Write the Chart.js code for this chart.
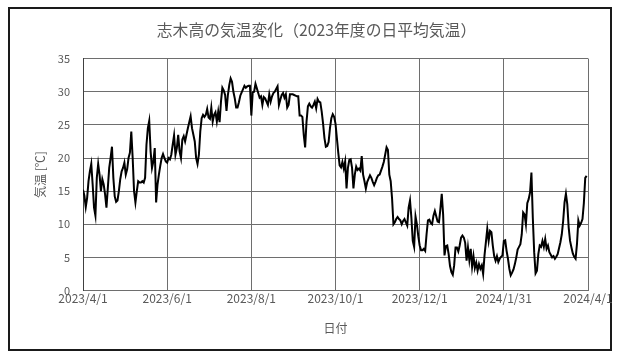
<!DOCTYPE html>
<html>
<head>
<meta charset="utf-8">
<script src="https://cdn.jsdelivr.net/npm/chart.js@4.4.1/dist/chart.umd.min.js"></script>
<style>
  html, body { margin: 0; padding: 0; background: #fff; }
  #wrap { width: 617px; height: 357px; }
</style>
</head>
<body>
<div id="wrap"><canvas id="tempChart" width="617" height="357"></canvas></div>
<script>
// daily mean temperature, 2023/4/1 .. 2024/3/31 (one value per day)
const apr = [15.2, 14.3, 12.6, 14, 16.5, 18, 19.1, 16, 12.5, 11.3,
    17, 19.1, 17.5, 15, 16.8, 16, 14.5, 12.5, 15.5, 18.5,
    20, 21.7, 17, 14.2, 13.4, 13.6, 15, 16.8, 18, 18.5];
const may = [19.3, 17.5, 18.3, 20, 20.8, 24, 20, 15, 13.3, 15,
    16.5, 16.3, 16.3, 16.5, 16.3, 17, 22, 24.5, 25.6, 21,
    18.5, 19.5, 21.5, 13.3, 16, 17.5, 18.8, 20, 20.6, 20,
    19.5];
const jun = [19.3, 20, 19.8, 20.5, 22, 23.4, 20.5, 21.5, 23.5, 21,
    20, 22.8, 23.3, 22.5, 23.5, 24.5, 25.4, 26.3, 24.5, 23.5,
    22.5, 20, 19.1, 20.5, 24, 26, 26.5, 26.2, 26.5, 27.4];
const jul = [26.1, 25.9, 27.6, 25.5, 26.5, 26.9, 25.5, 27, 25.4, 28.5,
    30.6, 30.2, 29.5, 27.1, 29.5, 31, 32, 31.5, 30, 29,
    27.6, 27.6, 28.4, 29.4, 29.9, 30.4, 30.9, 30.6, 30.8, 30.9,
    30.9];
const aug = [26.4, 29.9, 30, 31.2, 30.5, 29.8, 29.1, 29.3, 28, 29.2,
    29, 28.5, 28, 29.6, 28.5, 29.3, 29.8, 30, 30.4, 30.8,
    28, 28.8, 29.5, 29.8, 29.1, 29.6, 27.6, 28, 29.6, 29.6,
    29.6];
const sep = [29.5, 29.4, 29.3, 29.3, 26.4, 26.4, 26.2, 23.5, 21.6, 25.5,
    27.8, 28.2, 27.8, 27.6, 28, 28.5, 27.5, 28.9, 28.5, 28.4,
    27, 25.2, 23, 21.7, 21.8, 22.4, 24.5, 26, 26.6, 26.2];
const oct = [25.2, 23, 20.8, 18.9, 18.6, 19.4, 18.4, 19.5, 15.4, 18.5,
    19.7, 19.8, 18.5, 15.4, 17.5, 18.7, 18.2, 18.4, 18.1, 20.3,
    17.5, 16.5, 15.4, 16.4, 16.9, 17.4, 17, 16.4, 15.9, 16.4,
    17];
const nov = [17.4, 17.5, 18.1, 18.7, 19.4, 20.5, 21.6, 21.2, 17.5, 16.5,
    13.9, 10, 10.3, 10.8, 11.1, 10.8, 10.6, 10, 10.5, 10.8,
    10.3, 9.8, 12.5, 13.6, 11, 7.5, 6.6, 11.2, 10, 8.2];
const dec = [6.8, 6.1, 6.1, 6.3, 6, 8.5, 10.6, 10.7, 10.2, 10,
    11.3, 12, 11.2, 10.4, 10.3, 12.3, 14.6, 11.5, 5.3, 6.7,
    6.8, 5.5, 3.7, 2.8, 2.4, 3.8, 6.5, 6.5, 5.9, 6.8,
    8];
const jan = [8.3, 8, 7.2, 4.5, 6.5, 4.6, 6.3, 3.6, 5.2, 3.4,
    4.2, 3, 4, 3.3, 3.8, 2.5, 5.3, 7.3, 9.3, 7.5,
    9, 8.8, 6.8, 5.2, 4.5, 5.2, 4.3, 4.8, 5.1, 5.3,
    7.5];
const feb = [7.6, 6, 4.8, 3.3, 2.3, 2.7, 3.2, 4, 5, 6.2,
    6.6, 7, 8.5, 11.8, 11.5, 10, 13.2, 13.8, 14.8, 17.8,
    11, 5.8, 2.6, 3, 5.5, 6.8, 6.6, 7.5, 6.6];
const mar = [7.8, 6.3, 6.8, 5.8, 5.4, 5, 5.2, 4.8, 5.1, 5.5,
    6.4, 7.3, 8.5, 10.5, 13.3, 14.6, 13, 9.5, 7.5, 6.5,
    5.6, 5.1, 4.8, 7, 10.6, 9.8, 10.2, 10.8, 13.2, 17,
    17.3];

const temps = [...apr, ...may, ...jun, ...jul, ...aug, ...sep,
    ...oct, ...nov, ...dec, ...jan, ...feb, ...mar];

// x axis: day number from 2023/4/1, ticks every 61 days
const xTickLabels = ['2023/4/1', '2023/6/1', '2023/8/1', '2023/10/1', '2023/12/1', '2024/1/31', '2024/4/1'];
const xStep = 61;
const yMax = 35;
const yStep = 5;

const textColor = '#595959';
const gridColor = '#6e6e6e';
const fontFamily = "'Noto Sans CJK JP', 'Noto Sans', sans-serif";

// white background + outer frame like the Excel chart area
const frame = {
    id: 'frame',
    beforeDraw(chart) {
        const c = chart.ctx;
        c.save();
        c.fillStyle = '#fff';
        c.fillRect(0, 0, chart.width, chart.height);
        c.strokeStyle = '#1a1a1a';
        c.lineWidth = 2;
        c.strokeRect(9, 8, 602, 342);
        c.restore();
    }
};

const padLeft = 45;

const ctx = document.getElementById('tempChart').getContext('2d');
const tempChart = new Chart(ctx, {
    type: 'line',
    data: {
        datasets: [{
            label: '日平均気温',
            data: temps.map((v, i) => ({ x: i, y: v })),
            borderColor: '#000',
            borderWidth: 2,
            pointRadius: 0,
            tension: 0,
            fill: false
        }]
    },
    options: {
        responsive: false,
        animation: false,
        layout: {
            padding: { left: padLeft, right: 29, top: 21, bottom: 21 }
        },
        plugins: {
            legend: { display: false },
            tooltip: { enabled: false },
            title: {
                display: true,
                text: '志木高の気温変化（2023年度の日平均気温）',
                color: textColor,
                font: { family: fontFamily, size: 15.8, weight: 'normal' },
                padding: { top: 0, bottom: 18.6 }
            }
        },
        scales: {
            x: {
                type: 'linear',
                min: 0,
                max: xStep * (xTickLabels.length - 1),
                afterFit(scale) {
                    scale.height = 45.4;
                    scale.paddingLeft = 0;
                    scale.paddingRight = 0;
                },
                ticks: {
                    stepSize: xStep,
                    autoSkip: false,
                    maxRotation: 0,
                    padding: 1,
                    color: textColor,
                    font: { family: fontFamily, size: 12 },
                    callback: (v) => xTickLabels[Math.round(v / xStep)]
                },
                grid: { color: gridColor, lineWidth: 1, drawTicks: false },
                border: { color: gridColor, width: 1 },
                title: {
                    display: true,
                    text: '日付',
                    color: textColor,
                    font: { family: fontFamily, size: 12 },
                    padding: { top: 0, bottom: 0 }
                }
            },
            y: {
                min: 0,
                max: yMax,
                afterFit(scale) {
                    scale.width = 83 - padLeft;
                    scale.paddingTop = 0;
                    scale.paddingBottom = 0;
                },
                ticks: {
                    stepSize: yStep,
                    padding: 13,
                    color: textColor,
                    font: { family: fontFamily, size: 11 }
                },
                grid: { color: gridColor, lineWidth: 1, drawTicks: false },
                border: { color: '#404040', width: 1 },
                title: {
                    display: true,
                    text: '気温 [℃]',
                    color: textColor,
                    font: { family: fontFamily, size: 12 },
                    padding: { top: -12, bottom: 0 }
                }
            }
        }
    },
    plugins: [frame]
});
</script>
</body>
</html>
